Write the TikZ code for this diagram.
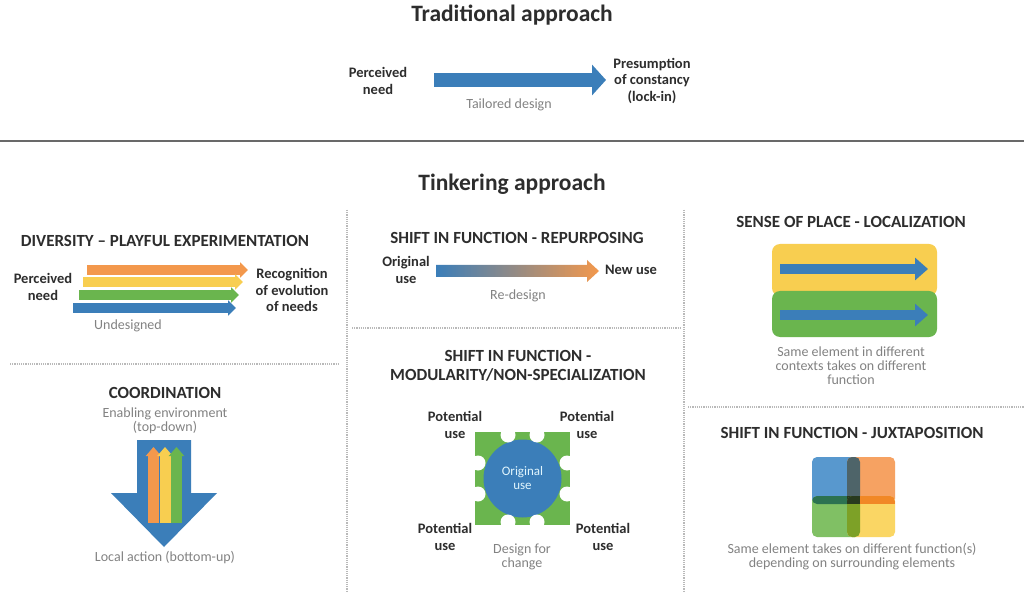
\documentclass[tikz,border=0pt]{standalone}
\usepackage{fontspec}
\setmainfont{Carlito}
\usetikzlibrary{arrows.meta}
\definecolor{cblue}{RGB}{59,126,185}
\definecolor{corange}{RGB}{243,152,76}
\definecolor{cyellow}{RGB}{248,206,80}
\definecolor{cgreen}{RGB}{106,181,78}
\definecolor{ctext}{RGB}{45,45,45}
\definecolor{cgray}{RGB}{130,130,130}
\definecolor{cline}{RGB}{105,105,105}
\definecolor{jblue}{RGB}{88,152,206}
\definecolor{jorange}{RGB}{246,162,98}
\definecolor{jgreen}{RGB}{128,192,100}
\definecolor{jyellow}{RGB}{250,214,100}
\definecolor{jbo}{RGB}{78,100,105}
\definecolor{jbg}{RGB}{44,114,81}
\definecolor{joy}{RGB}{241,136,38}
\definecolor{jgy}{RGB}{125,161,39}
\definecolor{jall}{RGB}{40,58,30}
\begin{document}
\begin{tikzpicture}[x=1pt,y=-1pt,
  bigtitle/.style={font=\fontsize{23.5}{27}\selectfont\bfseries, text=ctext, inner sep=0},
  head/.style={font=\fontsize{17}{19}\selectfont\bfseries, text=ctext, inner sep=0, align=center},
  lab/.style={font=\fontsize{14.5}{16.5}\selectfont\bfseries, text=ctext, inner sep=0, align=center},
  sub/.style={font=\fontsize{14}{14}\selectfont, text=cgray, inner sep=0, align=center},
  sep/.style={draw=gray!55, densely dotted, line width=1.2pt},
  fatarrow/.style={draw=cblue, line width=14pt, -{Triangle[length=14pt,width=30pt]}},
  stripe/.style={line width=10.5pt, -{Triangle[length=8pt,width=15pt]}},
  placearrow/.style={draw=cblue, line width=10pt, -{Triangle[length=13pt,width=22pt]}},
  uparrow/.style={line width=11pt, -{Triangle[length=9pt,width=15pt]}},
  bite/.style={fill=white}]
\fill[white] (0,0) rectangle (1024,593);
\useasboundingbox (0,0) rectangle (1024,593);

% ---------- Traditional approach
\node[bigtitle] (t1) at (512,15) {Traditional approach};
\node[lab] (pn) at (378,81) {Perceived\\need};
\node[lab] (pc) at (652,81) {Presumption\\of constancy\\(lock-in)};
\coordinate (a1s) at (434,80);
\coordinate (a1e) at (606,80);
\draw[fatarrow] (a1s) -- (a1e);
\node[sub] (td) at (509,105) {Tailored design};

\draw[cline, line width=1.6pt] (0,141) -- (1024,141);

% ---------- Tinkering approach
\node[bigtitle] (t2) at (512,184) {Tinkering approach};

\draw[sep] (347,210) -- (347,593);
\draw[sep] (684,210) -- (684,593);
\draw[sep] (10,364) -- (340,364);
\draw[sep] (352,328) -- (680,328);
\draw[sep] (688,407) -- (1024,407);

% ---------- Diversity
\node[head] (h1) at (165,241) {DIVERSITY – PLAYFUL EXPERIMENTATION};
\node[lab] (dpn) at (43,287) {Perceived\\need};
\node[lab] (drec) at (292,290) {Recognition\\of evolution\\of needs};
\coordinate (o1) at (87,270);  \coordinate (o2) at (248,270);
\coordinate (y1) at (83,282);  \coordinate (y2) at (243,282);
\coordinate (g1) at (79,295);  \coordinate (g2) at (239,295);
\coordinate (b1) at (73,308);  \coordinate (b2) at (236,308);
\draw[stripe, draw=corange] (o1) -- (o2);
\draw[stripe, draw=cyellow] (y1) -- (y2);
\draw[stripe, draw=cgreen] (g1) -- (g2);
\draw[stripe, draw=cblue] (b1) -- (b2);
\node[sub] (und) at (128,326) {Undesigned};

% ---------- Repurposing
\node[head] (h2) at (517,238) {SHIFT IN FUNCTION - REPURPOSING};
\node[lab] (ou) at (406,270) {Original\\use};
\node[lab] (nu) at (631,270) {New use};
\shade[left color=cblue, right color=corange]
  (436,265) -- (587,265) -- (587,260) -- (599,271) -- (587,282) -- (587,277) -- (436,277) -- cycle;
\node[sub] (rd) at (518,296) {Re-design};

% ---------- Sense of place
\node[head] (h3) at (851,222) {SENSE OF PLACE - LOCALIZATION};
\fill[cyellow, rounded corners=8pt] (772,244) rectangle (937,296);
\fill[cgreen, rounded corners=8pt] (772,291) rectangle (937,337);
\coordinate (p1s) at (780,269); \coordinate (p1e) at (928,269);
\coordinate (p2s) at (780,315); \coordinate (p2e) at (928,315);
\draw[placearrow] (p1s) -- (p1e);
\draw[placearrow] (p2s) -- (p2e);
\node[sub] (spl) at (851,366) {Same element in different\\contexts takes on different\\function};

% ---------- Coordination
\node[head] (h4) at (165,393) {COORDINATION};
\node[sub] (ee) at (165,421) {Enabling environment\\(top-down)};
\fill[cblue] (137,440) -- (191,440) -- (191,493) -- (217,493) -- (164,547) -- (111,493) -- (137,493) -- cycle;
\coordinate (co1) at (153.5,523); \coordinate (co2) at (153.5,447);
\coordinate (cy1) at (165,523);   \coordinate (cy2) at (165,447);
\coordinate (cg1) at (176.5,523); \coordinate (cg2) at (176.5,447);
\draw[uparrow, draw=corange] (co1) -- (co2);
\draw[uparrow, draw=cyellow] (cy1) -- (cy2);
\draw[uparrow, draw=cgreen] (cg1) -- (cg2);
\node[sub] (la) at (165,558) {Local action (bottom-up)};

% ---------- Modularity
\node[head] (h5) at (518,366) {SHIFT IN FUNCTION -\\MODULARITY/NON-SPECIALIZATION};
\fill[cgreen] (475,432) rectangle (570,525);
\fill[cblue] (522.5,478.5) circle (39);
\foreach \p in {(508,435),(537,435),(508,522),(537,522),(478,463),(478,494),(567,463),(567,494)}
  \fill[bite] \p circle (7.5);
\node[font=\fontsize{13}{14}\selectfont, text=cyan!12!white, align=center, inner sep=0] (orig) at (522.5,478) {Original\\use};
\node[lab] (pu1) at (455,425) {Potential\\use};
\node[lab] (pu2) at (587,425) {Potential\\use};
\node[lab] (pu3) at (445,537) {Potential\\use};
\node[lab] (pu4) at (603,537) {Potential\\use};
\node[sub] (dfc) at (522,557) {Design for\\change};

% ---------- Juxtaposition
\node[head] (h6) at (852,433) {SHIFT IN FUNCTION - JUXTAPOSITION};
\fill[jblue, rounded corners=5pt] (812,457) rectangle (860,504);
\fill[jorange, rounded corners=5pt] (847,457) rectangle (895,504);
\fill[jgreen, rounded corners=5pt] (812,496) rectangle (860,537);
\fill[jyellow, rounded corners=5pt] (847,496) rectangle (895,537);
\begin{scope}
  \clip[rounded corners=5pt] (812,457) rectangle (860,504);
  \fill[jbo, rounded corners=5pt] (847,457) rectangle (895,504);
  \fill[jbg, rounded corners=5pt] (812,496) rectangle (860,537);
  \fill[jall] (847,496) rectangle (860,504);
\end{scope}
\begin{scope}
  \clip[rounded corners=5pt] (847,496) rectangle (895,537);
  \fill[jgy, rounded corners=5pt] (812,496) rectangle (860,537);
  \fill[joy] (860,496) rectangle (895,504);
  \fill[jall] (847,496) rectangle (860,504);
\end{scope}
\node[sub] (jx) at (852,557) {Same element takes on different function(s)\\depending on surrounding elements};
\end{tikzpicture}
\end{document}
